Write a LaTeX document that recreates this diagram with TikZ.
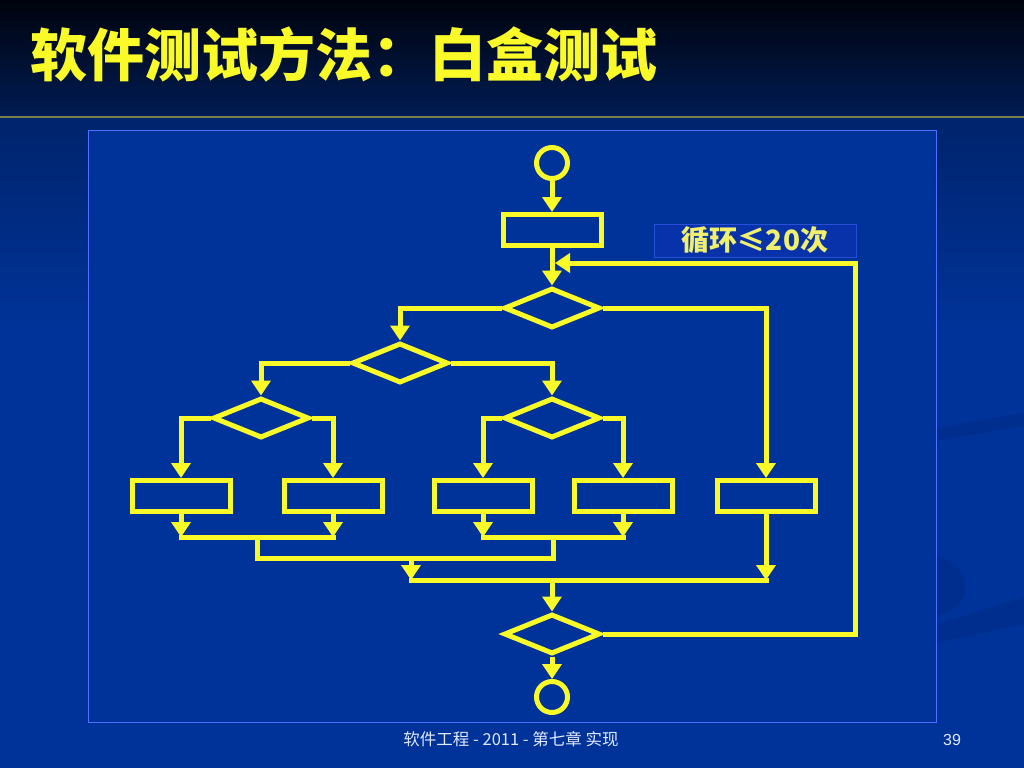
\documentclass[tikz,border=0pt]{standalone}
\usepackage{fontspec}
\setmainfont{Liberation Sans}
\newfontfamily\cjk{Noto Sans CJK SC}
\usetikzlibrary{arrows.meta,shapes.geometric}
\definecolor{bgA}{RGB}{0,3,12}
\definecolor{bgB}{RGB}{0,28,84}
\definecolor{bgC}{RGB}{0,36,108}
\definecolor{bgD}{RGB}{0,51,153}
\definecolor{panelfill}{RGB}{0,51,153}
\definecolor{panelline}{RGB}{80,110,255}
\definecolor{sepline}{RGB}{118,128,72}
\definecolor{fy}{RGB}{250,250,40}
\definecolor{labtext}{RGB}{240,240,110}
\definecolor{labfill}{RGB}{8,50,170}
\definecolor{labline}{RGB}{40,80,215}
\definecolor{bandc}{RGB}{0,46,142}
\definecolor{foot}{RGB}{225,232,255}
\begin{document}
\begin{tikzpicture}[x=1pt,y=-1pt,
  fl/.style={draw=fy, line width=5pt},
  arr/.style={fl, -{Triangle[width=19pt,length=15pt]}},
  ln/.style={fl, line cap=rect},
  boxn/.style={fl, rectangle, minimum width=98pt, minimum height=31pt, inner sep=0pt},
  dia/.style={fl, diamond, minimum width=96pt, minimum height=40pt, inner sep=0pt},
  term/.style={fl, circle, minimum size=31pt, inner sep=0pt},
  lbl/.style={draw=labline, line width=0.8pt, fill=labfill, minimum width=202pt, minimum height=33pt, inner sep=0pt, text=labtext, font=\cjk\bfseries\fontsize{28}{30}\selectfont},
  band/.style={fill=bandc}
]
\useasboundingbox (0,0) rectangle (1024,768);
% background
\shade[top color=bgA, bottom color=bgB] (0,0) rectangle (1024,117);
\shade[top color=bgC, bottom color=bgD] (0,117) rectangle (1024,330);
\fill[bgD] (0,330) rectangle (1024,768);
\fill[band] (937,428) -- (1024,413) -- (1024,426) -- (937,441) -- cycle;
\fill[band] (937,556) .. controls (975,568) and (975,606) .. (937,616) -- cycle;
\fill[band] (937,624) -- (1024,597) -- (1024,624) -- (937,643) -- cycle;
\draw[sepline, line width=2pt] (0,117) -- (1024,117);
% title
\node[anchor=base west, inner sep=0pt, text=fy, font=\cjk\bfseries\fontsize{57}{60}\selectfont] (title) at (30,77) {软件测试方法：白盒测试};
% panel
\draw[panelline, line width=1pt, fill=panelfill] (88,130) rectangle (936,722);
% nodes
\node[term] (s) at (552,163) {};
\node[boxn] (b0) at (552,230) {};
\node[dia] (d1) at (552,308) {};
\node[dia] (d2) at (400,363) {};
\node[dia] (d3) at (261,418) {};
\node[dia] (d4) at (552,418) {};
\node[boxn] (r1) at (181,496) {};
\node[boxn] (r2) at (333,496) {};
\node[boxn] (r3) at (483,496) {};
\node[boxn] (r4) at (623,496) {};
\node[boxn] (r5) at (766,496) {};
\node[dia] (d5) at (552,634) {};
\node[term] (e) at (552,697) {};
\node[lbl] (lab) at (755,240.5) {循环≤20次};
% junction coordinates
\coordinate (m12) at (257,537);
\coordinate (m34) at (553,537);
\coordinate (n12) at (257,558);
\coordinate (n34) at (553,558);
\coordinate (p) at (411,558);
\coordinate (q) at (411,580);
\coordinate (q5) at (766,580);
\coordinate (qc) at (552,580);
\coordinate (lc) at (855,263);
\coordinate (lp) at (555,263);
% connectors
\draw[arr] (s) -- (b0);
\draw[arr] (b0) -- (d1);
\draw[arr] (d1.west) -| (d2.north);
\draw[arr] (d1.east) -| (r5.north);
\draw[arr] (d2.west) -| (d3.north);
\draw[arr] (d2.east) -| (d4.north);
\draw[arr] (d3.west) -| (r1.north);
\draw[arr] (d3.east) -| (r2.north);
\draw[arr] (d4.west) -| (r3.north);
\draw[arr] (d4.east) -| (r4.north);
\draw[arr] (r1.south) -- (r1.south |- m12);
\draw[arr] (r2.south) -- (r2.south |- m12);
\draw[arr] (r3.south) -- (r3.south |- m34);
\draw[arr] (r4.south) -- (r4.south |- m34);
\draw[ln] (r1.south |- m12) -- (r2.south |- m12);
\draw[ln] (r3.south |- m34) -- (r4.south |- m34);
\draw[ln] (m12) -- (n12) -- (n34) -- (m34);
\draw[arr] (p) -- (q);
\draw[ln] (q) -- (q5);
\draw[arr] (r5.south) -- (q5);
\draw[arr] (qc) -- (d5.north);
\draw[arr] (d5.east) -| (lc) -- (lp);
\draw[arr] (d5) -- (e);
% footer
\node[anchor=base, inner sep=0pt, text=foot, font=\cjk\fontsize{16.5}{18}\selectfont] (footer) at (511,745) {软件工程 - 2011 - 第七章 实现};
\node[anchor=base, inner sep=0pt, text=foot, font=\fontsize{16}{18}\selectfont] (pageno) at (952,745) {39};
\end{tikzpicture}
\end{document}
